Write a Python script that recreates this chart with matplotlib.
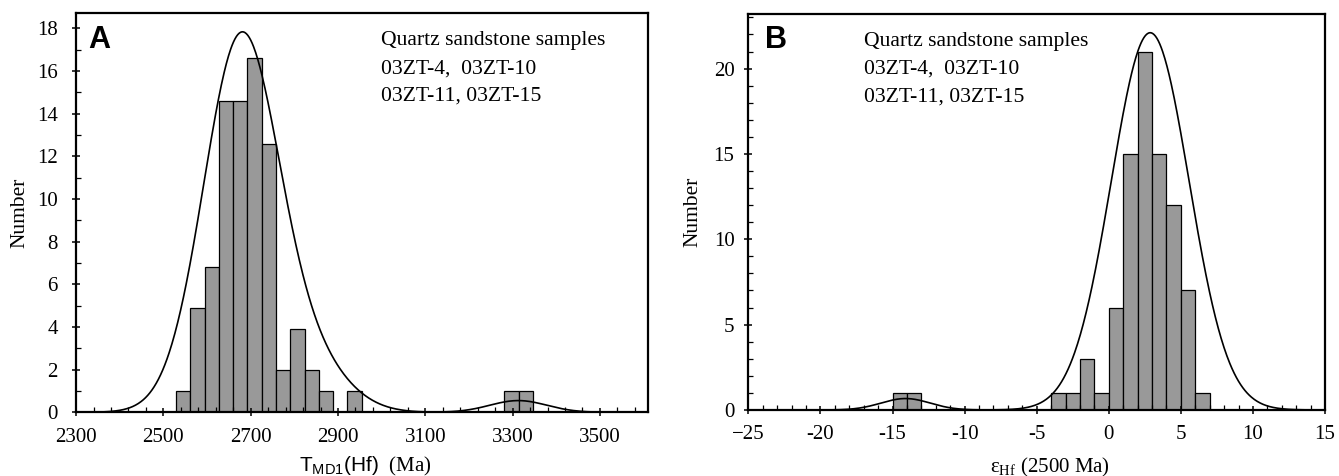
import numpy as np
import matplotlib
matplotlib.use('Agg')
import matplotlib.pyplot as plt
from matplotlib.ticker import MultipleLocator

plt.rcParams['font.family'] = ['Liberation Serif', 'DejaVu Serif']
plt.rcParams['mathtext.fontset'] = 'custom'
plt.rcParams['mathtext.rm'] = 'Liberation Serif'
plt.rcParams['mathtext.sf'] = 'Liberation Sans'

# Panel A: T_DM1(Hf) histogram
a_bin_start = 2529
a_bin_width = 32.7
a_counts = [1, 4.9, 6.8, 14.6, 14.6, 16.6, 12.6, 2, 3.9, 2, 1, 0, 1,
            0, 0, 0, 0, 0, 0, 0, 0, 0, 0, 1, 1]
# probability curve components (centre, sigma, height)
a_peaks = [(2678, 86, 17.5), (2840, 85, 2.0), (3313, 65, 0.55)]
a_ticks = [2300, 2500, 2700, 2900, 3100, 3300, 3500]

# Panel B: eHf(2500 Ma) histogram
b_bin_left = [-15, -14, -4, -3, -2, -1, 0, 1, 2, 3, 4, 5, 6]
b_counts = [1, 1, 1, 1, 3, 1, 6, 15, 21, 15, 12, 7, 1]
b_peaks = [(2.87, 2.7, 22.1), (-14.1, 1.7, 0.67)]
b_ticks = [-25, -20, -15, -10, -5, 0, 5, 10, 15]
b_labels = ['\u221225', '-20', '-15', '-10', '-5', '0', '5', '10', '15']

sample_text = 'Quartz sandstone samples\n03ZT-4,  03ZT-10\n03ZT-11, 03ZT-15'
bar_color = '#999999'


def curve(x, peaks):
    y = np.zeros_like(x)
    for mu, sd, h in peaks:
        y += h * np.exp(-0.5 * ((x - mu) / sd) ** 2)
    return y


def style_axes(ax, ypad):
    for s in ax.spines.values():
        s.set_linewidth(1.6)
    ax.tick_params(which='major', direction='inout', length=6, width=1.1,
                   labelsize=15)
    ax.tick_params(which='minor', direction='in', length=3.5, width=0.9)
    ax.tick_params(axis='x', which='major', pad=8)
    ax.tick_params(axis='y', which='major', pad=ypad)


fig = plt.figure(figsize=(13.39, 4.76), dpi=100)

# ---- A ----
axA = fig.add_axes([0.0568, 0.1338, 0.4271, 0.838])
a_left = a_bin_start + a_bin_width * np.arange(len(a_counts))
axA.bar(a_left, a_counts, width=a_bin_width, align='edge', color=bar_color,
        edgecolor='black', linewidth=0.9)
xa = np.linspace(2300, 3610, 800)
axA.plot(xa, curve(xa, a_peaks), color='black', linewidth=1.2)
axA.set_xlim(2300, 3610)
axA.set_ylim(0, 18.7)
axA.set_xticks(a_ticks)
axA.set_xticks(np.arange(2300, 3610, 40), minor=True)
axA.yaxis.set_major_locator(MultipleLocator(2))
axA.yaxis.set_minor_locator(MultipleLocator(1))
style_axes(axA, 10)
axA.set_ylabel('Number', fontsize=15.5)
axA.yaxis.set_label_coords(-0.082, 0.5)
axA.set_xlabel(r'$\mathsf{T_{MD1}(Hf)}$  (Ma)', fontsize=15)
axA.xaxis.set_label_coords(0.505, -0.108)
axA.text(0.041, 0.933, 'A', transform=axA.transAxes, fontsize=22,
         fontweight='bold', family='Liberation Sans', ha='center', va='center')
axA.text(0.533, 0.955, sample_text, transform=axA.transAxes, fontsize=15.6,
         ha='left', va='top', linespacing=1.62)

# ---- B ----
axB = fig.add_axes([0.5589, 0.1387, 0.4307, 0.832])
axB.bar(b_bin_left, b_counts, width=1, align='edge', color=bar_color,
        edgecolor='black', linewidth=0.9)
xb = np.linspace(-25, 15, 800)
axB.plot(xb, curve(xb, b_peaks), color='black', linewidth=1.2)
axB.set_xlim(-25, 15)
axB.set_ylim(0, 23.2)
axB.set_xticks(b_ticks)
axB.set_xticklabels(b_labels)
axB.xaxis.set_minor_locator(MultipleLocator(1))
axB.yaxis.set_major_locator(MultipleLocator(5))
axB.yaxis.set_minor_locator(MultipleLocator(1))
style_axes(axB, 7)
axB.set_ylabel('Number', fontsize=15.5)
axB.yaxis.set_label_coords(-0.080, 0.5)
axB.set_xlabel('\u03b5$_{\\rm Hf}$ (2500 Ma)', fontsize=15)
axB.xaxis.set_label_coords(0.523, -0.115)
axB.text(0.048, 0.933, 'B', transform=axB.transAxes, fontsize=22,
         fontweight='bold', family='Liberation Sans', ha='center', va='center')
axB.text(0.2006, 0.955, sample_text, transform=axB.transAxes, fontsize=15.6,
         ha='left', va='top', linespacing=1.62)

fig.savefig('out.png', dpi=100)
